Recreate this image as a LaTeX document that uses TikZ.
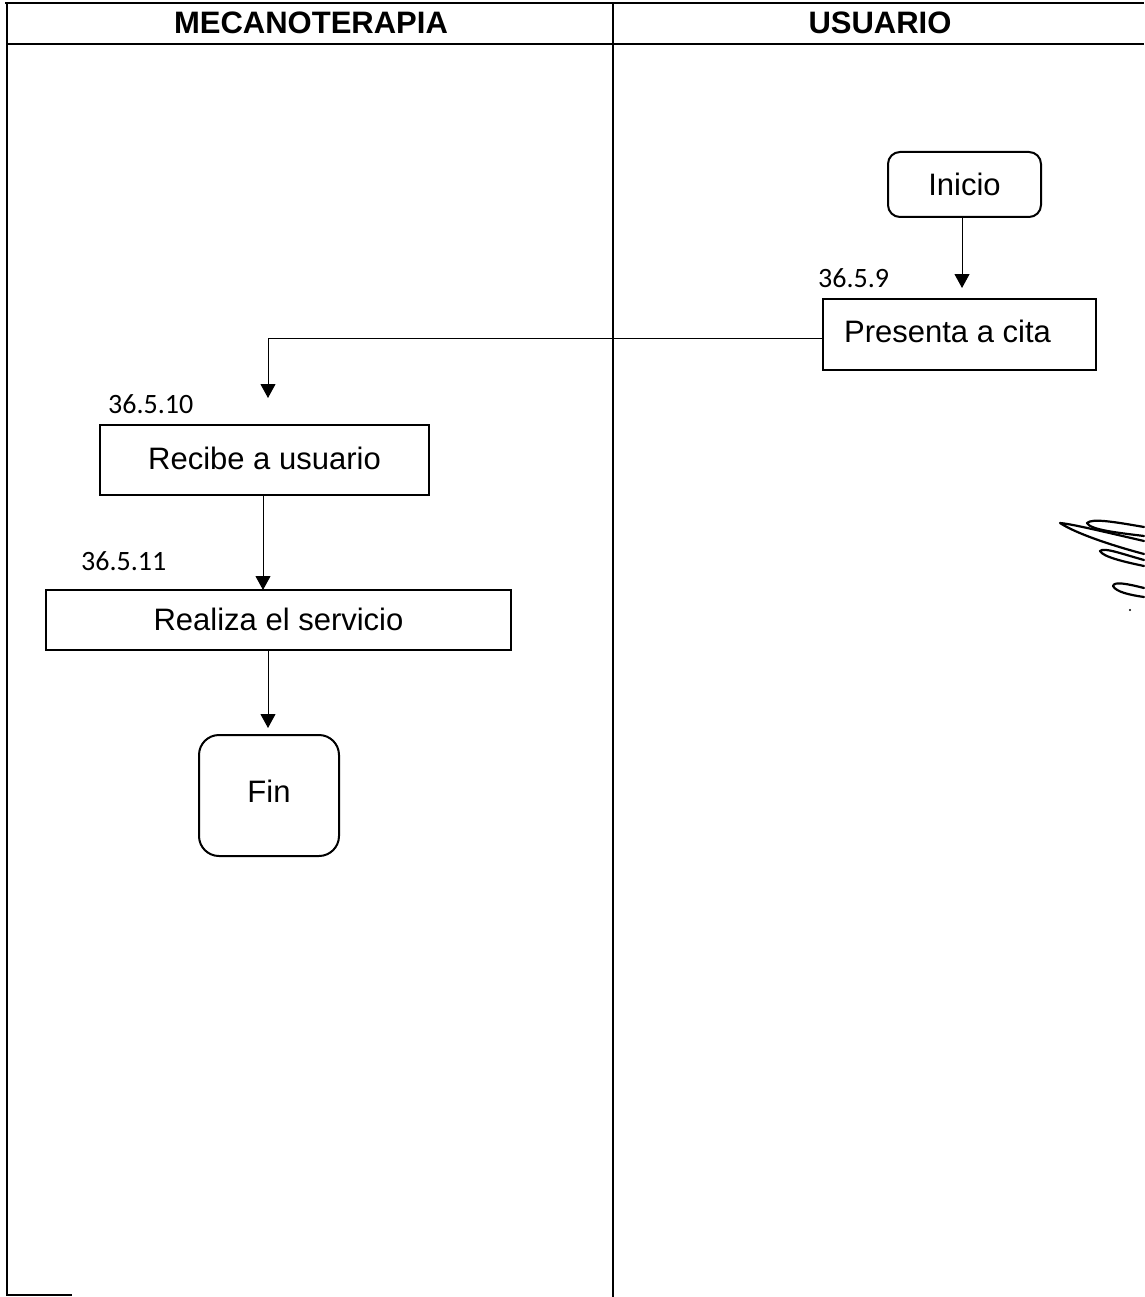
\documentclass[tikz,border=0pt]{standalone}
\usepackage{fontspec}
\setmainfont{Liberation Sans}
\newfontfamily\numfont{Carlito}
\usetikzlibrary{arrows.meta}
\begin{document}
\begin{tikzpicture}[x=1pt,y=-1pt,
  frame/.style={line width=1.2pt},
  procbox/.style={draw,line width=2pt,rectangle,inner sep=0pt,font=\fontsize{31}{36}\selectfont},
  termbox/.style={draw,line width=2pt,rectangle,inner sep=0pt,font=\fontsize{31}{36}\selectfont},
  flow/.style={line width=1pt,-{Triangle[width=15pt,length=14pt]}},
  stepnum/.style={font=\numfont\fontsize{28}{32}\selectfont,anchor=base west,inner sep=0pt},
  headtext/.style={font=\bfseries\fontsize{31}{36}\selectfont,inner sep=0pt},
  scribble/.style={line width=2.2pt,line cap=round,line join=round}]
\useasboundingbox (0,0) rectangle (1144,1297);
\fill[white] (0,0) rectangle (1144,1297);
% frame
\draw[frame] (5,3) -- (1144,3);
\draw[frame] (7,3) -- (7,1295) -- (72,1295);
\draw[frame] (7,44) -- (1144,44);
\draw[frame] (613,3) -- (613,1297);
% headers
\node[headtext] (h1) at (311,23) {MECANOTERAPIA};
\node[headtext] (h2) at (880,23) {USUARIO};
% nodes
\node[termbox,rounded corners=12pt,minimum width=153pt,minimum height=65pt] (ini) at (964.5,184.5) {Inicio};
\node[procbox,minimum width=273pt,minimum height=71pt] (pres) at (959.5,334.5) {\raisebox{6pt}{Presenta a cita}\rule{24pt}{0pt}};
\node[procbox,minimum width=329pt,minimum height=70pt] (rec) at (264.5,460) {\raisebox{4pt}{Recibe a usuario}};
\node[procbox,minimum width=465pt,minimum height=60pt] (real) at (278.5,620) {\raisebox{1pt}{Realiza el servicio}};
\node[termbox,rounded corners=20pt,minimum width=140pt,minimum height=121pt] (fin) at (269,795.5) {\raisebox{8pt}{Fin}};
% step numbers
\node[stepnum] (n9) at (818,287) {36.5.9};
\node[stepnum] (n10) at (108,413) {36.5.10};
\node[stepnum] (n11) at (81,570) {36.5.11};
% connectors
\coordinate (t1) at (962,288);
\coordinate (t2) at (268,398);
\coordinate (t3) at (263,590);
\coordinate (t4) at (268,728);
\draw[flow] (ini.south -| t1) -- (t1);
\draw[flow] (pres.west |- 0,338) -- (268,338) -- (t2);
\draw[flow] (rec.south -| t3) -- (t3);
\draw[flow] (real.south -| t4) -- (t4);
% signature scribble
\draw[scribble] (1144,541) .. controls (1105,532) and (1072,524) .. (1060,523) .. controls (1075,533) and (1110,545) .. (1144,554);
\draw[scribble] (1144,527) .. controls (1115,522) and (1092,518) .. (1087,523) .. controls (1090,530) and (1120,533) .. (1144,536);
\draw[scribble] (1144,560) .. controls (1122,554) and (1104,547) .. (1100,551) .. controls (1103,557) and (1125,562) .. (1144,566);
\draw[scribble] (1144,588) .. controls (1128,584) and (1114,581) .. (1113,586) .. controls (1116,592) and (1130,595) .. (1144,597);
\fill (1130,610) circle (1.2pt);
\end{tikzpicture}
\end{document}
